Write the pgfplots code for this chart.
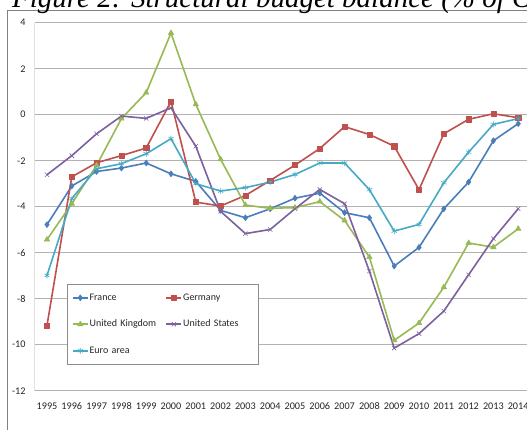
\documentclass[border=0pt]{standalone}
\usepackage{fontspec}
\setmainfont{Carlito}
\newfontfamily\titlefont{Liberation Serif}
\usepackage{pgfplots}
\usepackage{pgfplotstable}
\pgfplotsset{compat=1.18}

\definecolor{frcol}{HTML}{4A7EBB}
\definecolor{decol}{HTML}{C0504D}
\definecolor{ukcol}{HTML}{98B954}
\definecolor{uscol}{HTML}{7D60A0}
\definecolor{eacol}{HTML}{46AAC5}

% Structural budget balance, % of GDP
\pgfplotstableread{
year  France Germany UK     US     EA
1995  -4.78  -9.16  -5.43  -2.61  -6.99
1996  -3.10  -2.70  -3.87  -1.78  -3.65
1997  -2.47  -2.09  -2.20  -0.83  -2.35
1998  -2.32  -1.78  -0.17  -0.06  -2.13
1999  -2.10  -1.45   0.96  -0.16  -1.70
2000  -2.57   0.58   3.55   0.30  -1.04
2001  -2.90  -3.80   0.45  -1.37  -3.00
2002  -4.16  -3.97  -1.94  -4.20  -3.32
2003  -4.48  -3.51  -3.93  -5.17  -3.17
2004  -4.09  -2.86  -4.07  -4.99  -2.93
2005  -3.63  -2.19  -4.04  -4.09  -2.60
2006  -3.41  -1.47  -3.78  -3.25  -2.10
2007  -4.26  -0.52  -4.60  -3.87  -2.10
2008  -4.48  -0.86  -6.19  -6.80  -3.26
2009  -6.58  -1.37  -9.81  -10.15 -5.06
2010  -5.77  -3.26  -9.06  -9.52  -4.77
2011  -4.09  -0.83  -7.50  -8.54  -2.96
2012  -2.93  -0.20  -5.58  -6.96  -1.63
2013  -1.13   0.04  -5.76  -5.39  -0.42
2014  -0.39  -0.13  -4.96  -4.09  -0.17
}\budget

\begin{document}
\begin{tikzpicture}[x=1pt,y=1pt]
\useasboundingbox (0,0) rectangle (527,-430);
\clip (0,0) rectangle (527,-430);
\fill[white] (0,0) rectangle (527,-430);
% chart frame
\draw[line width=0.8pt, draw=black!50] (7.3,-10) rectangle (600,-500);
% caption line above the chart
\node[font=\titlefont\itshape\fontsize{29}{34}\selectfont, anchor=base west, inner sep=0pt]
  at (12,-8) {Figure 2: Structural budget balance (\% of GDP)};
\begin{axis}[
  at={(34.6pt,-390.7pt)}, anchor=south west,
  scale only axis, width=496pt, height=368pt,
  xmin=1994.5, xmax=2014.5, ymin=-12, ymax=4,
  xtick={1995,...,2014}, ytick={-12,-10,...,4},
  axis x line*=bottom, axis y line*=left,
  x axis line style={draw=black!30, line width=0.8pt},
  y axis line style={draw=black!12, line width=0.8pt},
  major tick length=0pt,
  ymajorgrids, grid style={draw=black!30, line width=0.8pt},
  /pgf/number format/assume math mode=true,
  tick label style={font=\fontsize{10.2}{12}\selectfont, text=black!85},
  x tick label style={/pgf/number format/1000 sep={}, anchor=north,
     text height=7pt, text depth=0pt, yshift=-8pt},
  y tick label style={xshift=-5.6pt},
  every axis plot/.append style={line width=1.6pt, line join=round},
  legend columns=2,
  legend cell align=left,
  legend image code/.code={\draw[mark repeat=2,mark phase=2,#1]
     plot coordinates {(0pt,0pt) (7.5pt,0pt) (15pt,0pt)};},
  legend style={
    at={(axis description cs:0.0647,0.29)}, anchor=north west,
    draw=black!45, line width=0.6pt,
    inner xsep=5pt, inner ysep=8pt, row sep=15.5pt,
    font=\fontsize{10}{12}\selectfont, text=black!85,
    nodes={inner sep=1pt, text height=7pt, text depth=2pt, text width=69pt},
    /tikz/every even column/.append style={column sep=6pt}},
]
\addplot[color=frcol, mark=diamond*, mark size=3pt, mark options={line width=0.5pt, fill=frcol}]
  table[x=year, y=France] {\budget};
\addlegendentry{France}
\addplot[color=decol, mark=square*, mark size=2.6pt, mark options={line width=0.5pt, fill=decol}]
  table[x=year, y=Germany] {\budget};
\addlegendentry{Germany}
\addplot[color=ukcol, mark=triangle*, mark size=3.2pt, mark options={line width=0.5pt, fill=ukcol}]
  table[x=year, y=UK] {\budget};
\addlegendentry{United Kingdom}
\addplot[color=uscol, mark=x, mark size=3pt, mark options={line width=0.6pt}]
  table[x=year, y=US] {\budget};
\addlegendentry{United States}
\addplot[color=eacol, mark=asterisk, mark size=3pt, mark options={line width=0.6pt}]
  table[x=year, y=EA] {\budget};
\addlegendentry{Euro area}
\end{axis}
\end{tikzpicture}
\end{document}
